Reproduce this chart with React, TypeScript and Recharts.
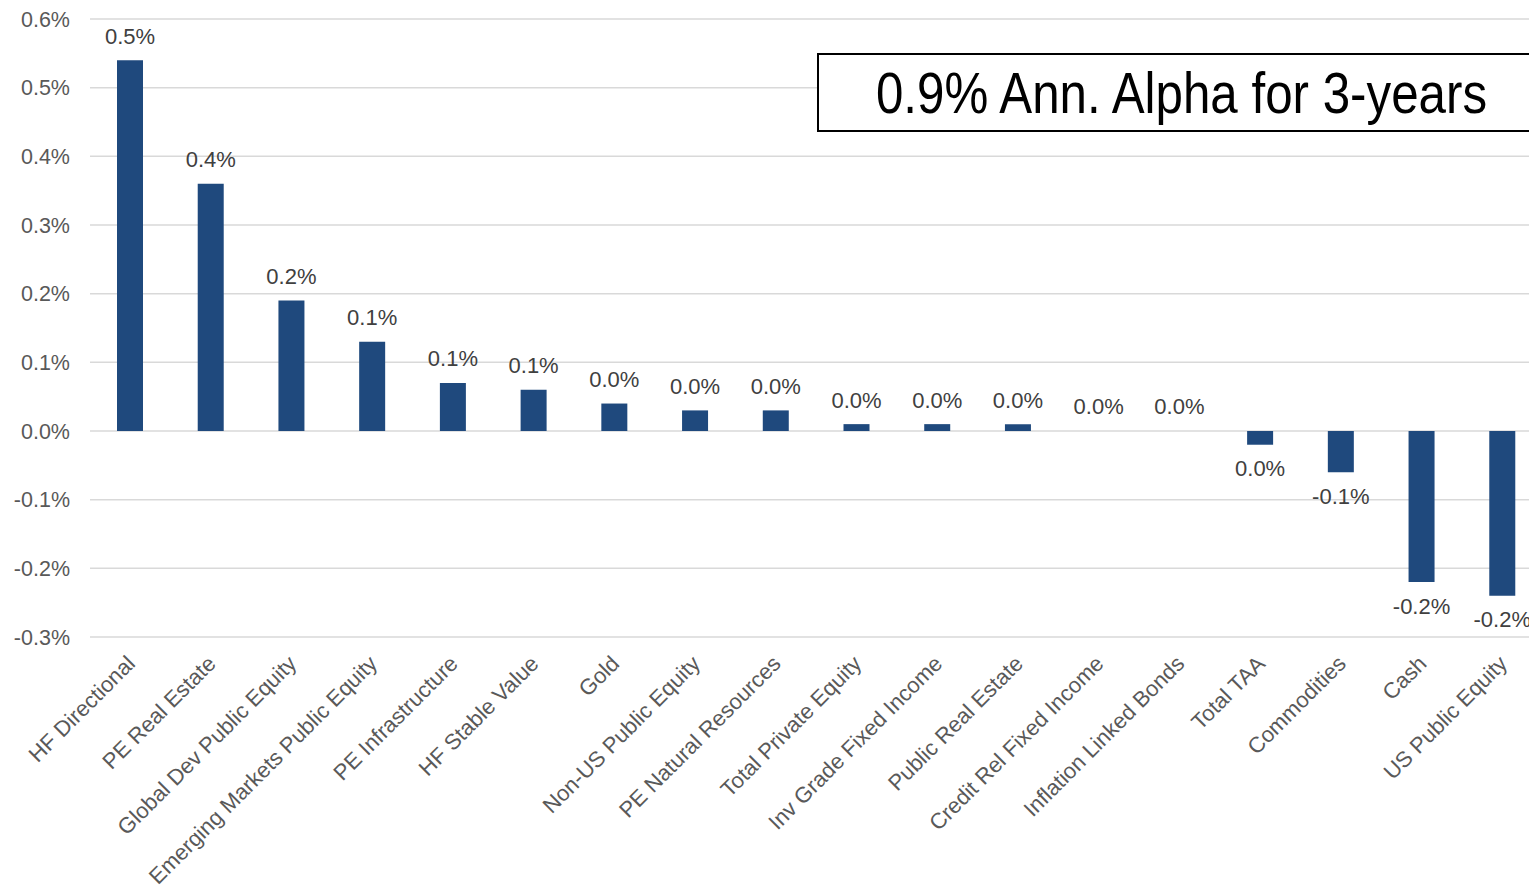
import { BarChart, Bar, XAxis, YAxis, CartesianGrid, LabelList } from "recharts";

const categories = [
  "HF Directional",
  "PE Real Estate",
  "Global Dev Public Equity",
  "Emerging Markets Public Equity",
  "PE Infrastructure",
  "HF Stable Value",
  "Gold",
  "Non-US Public Equity",
  "PE Natural Resources",
  "Total Private Equity",
  "Inv Grade Fixed Income",
  "Public Real Estate",
  "Credit Rel Fixed Income",
  "Inflation Linked Bonds",
  "Total TAA",
  "Commodities",
  "Cash",
  "US Public Equity",
];

// attribution, in percent
const alphaValues = [
  0.54, 0.36, 0.19, 0.13, 0.07, 0.06, 0.04, 0.03, 0.03, 0.01, 0.01, 0.01, 0,
  0, -0.02, -0.06, -0.22, -0.24,
];

const yTicks = [-0.3, -0.2, -0.1, 0, 0.1, 0.2, 0.3, 0.4, 0.5, 0.6];

const calloutText = "0.9% Ann. Alpha for 3-years";

const chartData = categories.map((name, i) => ({ name, value: alphaValues[i] }));

const pct = (v: number) => (Math.round(v * 10) / 10).toFixed(1) + "%";

const BarValueLabel = (props: any) => {
  const { x, y, width, height, value } = props;
  const top = Math.min(y, y + height);
  const bottom = Math.max(y, y + height);
  const ly = value >= 0 ? top - 24 : bottom + 24;
  return (
    <text
      x={x + width / 2}
      y={ly}
      textAnchor="middle"
      dominantBaseline="central"
      fill="#404040"
      fontSize={22}
    >
      {pct(value)}
    </text>
  );
};

const CategoryTick = (props: any) => {
  const { x, y, payload } = props;
  return (
    <text
      transform={`translate(${x + 6},${y + 20}) rotate(-45)`}
      textAnchor="end"
      fill="#595959"
      fontSize={22}
    >
      {payload.value}
    </text>
  );
};

export default function App() {
  return (
    <div
      style={{
        position: "absolute",
        left: 0,
        top: 0,
        width: 1529,
        height: 887,
        overflow: "hidden",
        background: "#fff",
        fontFamily: "'Liberation Sans', Arial, sans-serif",
      }}
    >
      <BarChart
        width={1543}
        height={887}
        data={chartData}
        margin={{ top: 19, right: 0, bottom: 0, left: 0 }}
      >
        <CartesianGrid vertical={false} stroke="#d9d9d9" strokeWidth={1.5} />
        <XAxis
          dataKey="name"
          height={250}
          interval={0}
          axisLine={false}
          tickLine={false}
          tick={<CategoryTick />}
        />
        <YAxis
          width={90}
          domain={[-0.3, 0.6]}
          ticks={yTicks}
          tickFormatter={(v: number) => v.toFixed(1) + "%"}
          axisLine={false}
          tickLine={false}
          tickMargin={14}
          tick={{ fill: "#595959", fontSize: 21.5 }}
        />
        <Bar
          dataKey="value"
          fill="#1f497d"
          barSize={26}
          minPointSize={0.01}
          isAnimationActive={false}
        >
          <LabelList dataKey="value" content={<BarValueLabel />} />
        </Bar>
      </BarChart>
      <div
        style={{
          position: "absolute",
          left: 817,
          top: 53,
          width: 724,
          height: 75,
          border: "2px solid #000",
          background: "#fff",
          display: "flex",
          alignItems: "center",
          justifyContent: "center",
          color: "#000",
          whiteSpace: "nowrap",
        }}
      >
        <span
          style={{
            display: "inline-block",
            fontSize: 58,
            lineHeight: 1,
            transform: "scaleX(0.85)",
          }}
        >
          {calloutText}
        </span>
      </div>
    </div>
  );
}
